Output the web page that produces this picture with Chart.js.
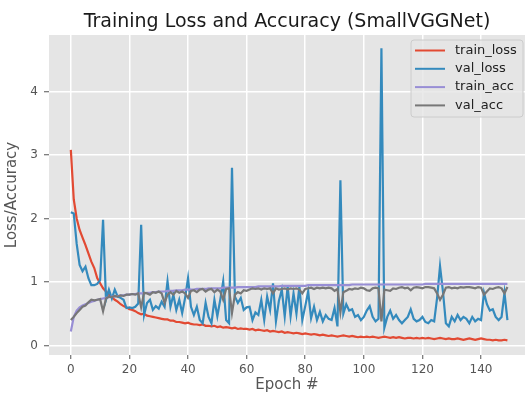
<!DOCTYPE html>
<html>
<head>
<meta charset="utf-8">
<script src="https://cdn.jsdelivr.net/npm/chart.js@4.4.1/dist/chart.umd.min.js"></script>
<style>
  body { margin: 0; background: #fff; }
  canvas { display: block; }
</style>
</head>
<body>
<canvas id="lossChart" width="525" height="394"></canvas>
<script>
// values, one per epoch (0..149)
const trainLoss = [
  3.08, 2.30, 2.00, 1.82, 1.70, 1.58, 1.45, 1.32, 1.22, 1.06,
  0.98, 0.90, 0.85, 0.80, 0.76, 0.72, 0.69, 0.65, 0.62, 0.60,
  0.57, 0.56, 0.54, 0.51, 0.49, 0.50, 0.47, 0.46, 0.45, 0.44,
  0.43, 0.42, 0.41, 0.41, 0.39, 0.39, 0.37, 0.37, 0.36, 0.35,
  0.36, 0.34, 0.33, 0.33, 0.32, 0.33, 0.31, 0.31, 0.30, 0.31,
  0.29, 0.30, 0.28, 0.29, 0.28, 0.27, 0.28, 0.26, 0.27, 0.26,
  0.26, 0.25, 0.26, 0.24, 0.25, 0.24, 0.23, 0.24, 0.22, 0.23,
  0.22, 0.21, 0.22, 0.20, 0.21, 0.20, 0.19, 0.20, 0.19, 0.18,
  0.19, 0.18, 0.17, 0.18, 0.17, 0.16, 0.17, 0.16, 0.15, 0.16,
  0.15, 0.14, 0.15, 0.16, 0.15, 0.14, 0.15, 0.14, 0.13, 0.14,
  0.13, 0.14, 0.13, 0.14, 0.13, 0.12, 0.13, 0.14, 0.13, 0.12,
  0.13, 0.12, 0.13, 0.12, 0.11, 0.12, 0.12, 0.11, 0.12, 0.11,
  0.12, 0.11, 0.12, 0.11, 0.10, 0.11, 0.12, 0.11, 0.10, 0.11,
  0.10, 0.10, 0.11, 0.10, 0.09, 0.10, 0.11, 0.10, 0.09, 0.10,
  0.11, 0.10, 0.09, 0.09, 0.08, 0.09, 0.08, 0.08, 0.09, 0.08
];
const valLoss = [
  2.10, 2.08, 1.60, 1.27, 1.17, 1.24, 1.06, 0.95, 0.95, 0.97,
  1.03, 1.98, 0.72, 0.88, 0.74, 0.88, 0.77, 0.75, 0.72, 0.59,
  0.60, 0.59, 0.61, 0.66, 1.90, 0.48, 0.67, 0.72, 0.56, 0.62,
  0.58, 0.69, 0.61, 1.01, 0.61, 0.80, 0.56, 0.72, 0.51, 0.75,
  1.06, 0.61, 0.48, 0.61, 0.40, 0.35, 0.67, 0.45, 0.35, 0.72,
  0.46, 0.72, 1.01, 0.40, 0.35, 2.80, 0.77, 0.67, 0.75, 0.56,
  0.60, 0.61, 0.40, 0.52, 0.48, 0.72, 0.40, 0.77, 0.56, 0.98,
  0.38, 0.70, 0.88, 0.46, 0.93, 0.46, 0.82, 0.50, 0.93, 0.40,
  0.62, 0.85, 0.43, 0.61, 0.40, 0.53, 0.38, 0.48, 0.42, 0.40,
  0.59, 0.30, 2.60, 0.50, 0.65, 0.55, 0.57, 0.45, 0.48, 0.40,
  0.45, 0.55, 0.62, 0.45, 0.38, 0.42, 4.68, 0.28, 0.45, 0.55,
  0.42, 0.48, 0.40, 0.35, 0.40, 0.45, 0.57, 0.42, 0.38, 0.40,
  0.45, 0.37, 0.35, 0.40, 0.38, 0.75, 1.25, 0.85, 0.35, 0.30,
  0.45, 0.38, 0.48, 0.40, 0.45, 0.42, 0.35, 0.45, 0.38, 0.42,
  0.40, 0.83, 0.65, 0.55, 0.57, 0.45, 0.40, 0.45, 0.83, 0.40
];
const trainAcc = [
  0.22, 0.45, 0.55, 0.60, 0.63, 0.65, 0.67, 0.69, 0.70, 0.72,
  0.73, 0.74, 0.75, 0.76, 0.77, 0.77, 0.78, 0.79, 0.79, 0.80,
  0.80, 0.81, 0.81, 0.82, 0.82, 0.82, 0.83, 0.83, 0.84, 0.84,
  0.85, 0.85, 0.85, 0.86, 0.86, 0.86, 0.87, 0.87, 0.87, 0.88,
  0.88, 0.88, 0.88, 0.89, 0.89, 0.89, 0.89, 0.90, 0.90, 0.90,
  0.90, 0.90, 0.91, 0.91, 0.91, 0.91, 0.91, 0.92, 0.92, 0.92,
  0.92, 0.92, 0.92, 0.92, 0.93, 0.93, 0.93, 0.93, 0.93, 0.93,
  0.93, 0.93, 0.94, 0.94, 0.94, 0.94, 0.94, 0.94, 0.94, 0.94,
  0.94, 0.95, 0.95, 0.95, 0.95, 0.95, 0.95, 0.95, 0.95, 0.95,
  0.95, 0.95, 0.95, 0.95, 0.95, 0.95, 0.96, 0.96, 0.96, 0.96,
  0.96, 0.96, 0.96, 0.96, 0.96, 0.96, 0.96, 0.96, 0.96, 0.96,
  0.96, 0.96, 0.96, 0.96, 0.96, 0.96, 0.96, 0.96, 0.96, 0.96,
  0.96, 0.97, 0.97, 0.97, 0.97, 0.97, 0.97, 0.97, 0.97, 0.97,
  0.97, 0.97, 0.97, 0.97, 0.97, 0.97, 0.97, 0.97, 0.97, 0.97,
  0.97, 0.97, 0.97, 0.97, 0.97, 0.97, 0.97, 0.97, 0.97, 0.97
];
const valAcc = [
  0.40, 0.45, 0.51, 0.56, 0.61, 0.63, 0.68, 0.72, 0.71, 0.72,
  0.73, 0.54, 0.74, 0.77, 0.76, 0.78, 0.77, 0.79, 0.78, 0.80,
  0.80, 0.81, 0.80, 0.82, 0.60, 0.83, 0.82, 0.80, 0.84, 0.83,
  0.85, 0.82, 0.67, 0.80, 0.84, 0.80, 0.86, 0.83, 0.85, 0.82,
  0.75, 0.86, 0.87, 0.84, 0.88, 0.89, 0.85, 0.88, 0.89, 0.84,
  0.88, 0.85, 0.72, 0.89, 0.90, 0.51, 0.80, 0.84, 0.82, 0.87,
  0.86, 0.88, 0.90, 0.89, 0.90, 0.88, 0.90, 0.89, 0.90, 0.82,
  0.90, 0.88, 0.89, 0.90, 0.88, 0.90, 0.89, 0.90, 0.88, 0.82,
  0.89, 0.90, 0.91, 0.89, 0.91, 0.90, 0.91, 0.90, 0.91, 0.90,
  0.86, 0.89, 0.52, 0.84, 0.86, 0.89, 0.88, 0.90, 0.89, 0.91,
  0.90, 0.87, 0.86, 0.90, 0.91, 0.90, 0.38, 0.88, 0.87, 0.86,
  0.90, 0.89, 0.91, 0.92, 0.90, 0.91, 0.87, 0.91, 0.92, 0.91,
  0.90, 0.92, 0.92, 0.91, 0.90, 0.82, 0.72, 0.80, 0.91, 0.92,
  0.90, 0.91, 0.90, 0.92, 0.91, 0.92, 0.92, 0.91, 0.90, 0.92,
  0.91, 0.80, 0.85, 0.90, 0.89, 0.91, 0.92, 0.90, 0.82, 0.92
];
const epochs = trainLoss.map((v, i) => i);
const xTicks = [0, 20, 40, 60, 80, 100, 120, 140];
const yTicks = [0, 1, 2, 3, 4];

Chart.defaults.font.family = "'DejaVu Sans', sans-serif";

// grey ggplot-like panel behind the grid
const panelBackground = {
  id: "panelBackground",
  beforeDraw(chart) {
    const { ctx, chartArea } = chart;
    ctx.save();
    ctx.fillStyle = "#e5e5e5";
    ctx.fillRect(chartArea.left, chartArea.top, chartArea.right - chartArea.left, chartArea.bottom - chartArea.top);
    ctx.restore();
  }
};

// legend box in the upper right corner of the panel
const insetLegend = {
  id: "insetLegend",
  afterDatasetsDraw(chart) {
    const ctx = chart.ctx;
    const x = 411, y = 40, w = 112, h = 77, r = 3;
    ctx.save();
    ctx.beginPath();
    ctx.roundRect(x, y, w, h, r);
    ctx.fillStyle = "rgba(229,229,229,0.8)";
    ctx.fill();
    ctx.strokeStyle = "#cccccc";
    ctx.lineWidth = 1;
    ctx.stroke();
    ctx.font = "13px 'DejaVu Sans'";
    ctx.textBaseline = "middle";
    ctx.textAlign = "left";
    chart.data.datasets.forEach((ds, i) => {
      const rowY = 50.5 + i * 18.3;
      ctx.beginPath();
      ctx.moveTo(415, rowY);
      ctx.lineTo(445, rowY);
      ctx.strokeStyle = ds.borderColor;
      ctx.lineWidth = 2;
      ctx.stroke();
      ctx.fillStyle = "#222";
      ctx.fillText(ds.label, 455, rowY);
    });
    ctx.restore();
  }
};

function lineSet(label, data, color, order) {
  return {
    label: label,
    data: data,
    borderColor: color,
    backgroundColor: color,
    borderWidth: 2.2,
    pointRadius: 0,
    tension: 0,
    order: order
  };
}

const chart = new Chart(document.getElementById("lossChart"), {
  type: "line",
  data: {
    labels: epochs,
    datasets: [
      lineSet("train_loss", trainLoss, "#e24a33", 4),
      lineSet("val_loss", valLoss, "#348abd", 3),
      lineSet("train_acc", trainAcc, "#988ed5", 2),
      lineSet("val_acc", valAcc, "#777777", 1)
    ]
  },
  options: {
    responsive: false,
    animation: false,
    devicePixelRatio: 1,
    layout: { padding: 0 },
    plugins: {
      legend: { display: false },
      tooltip: { enabled: false },
      title: {
        display: true,
        text: "Training Loss and Accuracy (SmallVGGNet)",
        fullSize: false,
        color: "#1a1a1a",
        font: { size: 19, weight: "normal" },
        padding: { top: 10.5, bottom: 1.7 }
      }
    },
    scales: {
      x: {
        type: "linear",
        min: -7.45,
        max: 155,
        afterBuildTicks: s => { s.ticks = xTicks.map(v => ({ value: v })); },
        afterFit: s => { s.height = 39; },
        ticks: { color: "#555555", font: { size: 12 }, padding: 4, maxRotation: 0, autoSkip: false },
        grid: { color: "#ffffff", lineWidth: 1.5, tickColor: "#555555", tickLength: 4, tickWidth: 1 },
        border: { display: false },
        title: { display: true, text: "Epoch #", color: "#555555", font: { size: 15 }, padding: 0 }
      },
      y: {
        type: "linear",
        min: -0.15,
        max: 4.89,
        afterBuildTicks: s => { s.ticks = yTicks.map(v => ({ value: v })); },
        afterFit: s => { s.width = 49; },
        ticks: { color: "#555555", font: { size: 12 }, padding: 6 },
        grid: { color: "#ffffff", lineWidth: 1.5, tickColor: "#555555", tickLength: 5, tickWidth: 1 },
        border: { display: false },
        title: { display: true, text: "Loss/Accuracy", color: "#555555", font: { size: 15 }, padding: { top: 3, bottom: 0 } }
      }
    }
  },
  plugins: [panelBackground, insetLegend]
});
</script>
</body>
</html>
